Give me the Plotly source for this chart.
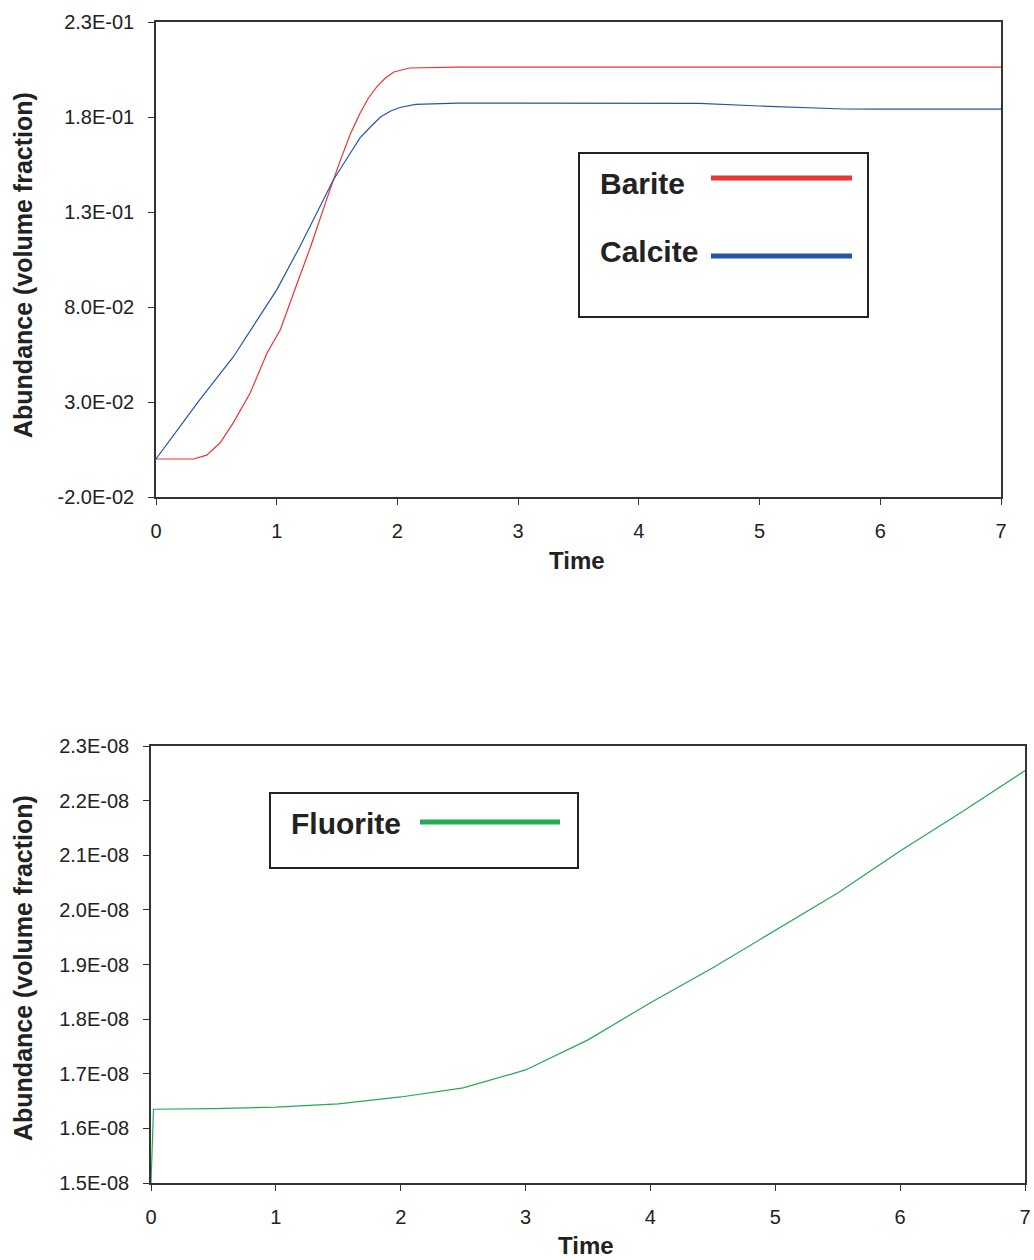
import plotly.graph_objects as go

# ---- data: upper panel (barite / calcite volume fraction vs time) ----
barite_t = [0.0, 0.15, 0.31, 0.42, 0.53, 0.64, 0.78, 0.92, 1.03, 1.14, 1.28, 1.41,
            1.52, 1.61, 1.69, 1.76, 1.83, 1.9, 1.97, 2.1, 2.5, 3.0, 4.0, 5.0, 6.0, 7.0]
barite_v = [0.0, 0.0, 0.0, 0.002, 0.0084, 0.019, 0.0347, 0.0558, 0.068, 0.0874, 0.1116, 0.136,
            0.156, 0.171, 0.182, 0.19, 0.196, 0.2005, 0.2037, 0.2058, 0.2062, 0.2062, 0.2062,
            0.2062, 0.2062, 0.2062]

calcite_t = [0.0, 0.36, 0.64, 1.0, 1.19, 1.47, 1.6, 1.69, 1.78, 1.86, 1.94, 2.02, 2.15, 2.5,
             3.0, 4.0, 4.5, 5.0, 5.7, 6.0, 7.0]
calcite_v = [0.0, 0.031, 0.0537, 0.089, 0.1116, 0.147, 0.16, 0.169, 0.175, 0.18, 0.183, 0.185,
             0.1866, 0.1873, 0.1873, 0.1873, 0.1872, 0.1858, 0.1842, 0.1841, 0.1841]

# ---- data: lower panel (fluorite volume fraction vs time) ----
fluorite_t = [0.0, 0.02, 0.5, 1.0, 1.5, 2.0, 2.5, 3.0, 3.5, 4.0, 4.5, 5.0, 5.5, 6.0, 6.5, 7.0]
fluorite_v = [1.5e-8, 1.635e-8, 1.636e-8, 1.639e-8, 1.645e-8, 1.6575e-8, 1.674e-8, 1.707e-8,
              1.762e-8, 1.83e-8, 1.894e-8, 1.963e-8, 2.031e-8, 2.108e-8, 2.18e-8, 2.255e-8]

time_ticks = [0, 1, 2, 3, 4, 5, 6, 7]
top_yticks = [-0.02, 0.03, 0.08, 0.13, 0.18, 0.23]
top_ylabels = ["-2.0E-02", "3.0E-02", "8.0E-02", "1.3E-01", "1.8E-01", "2.3E-01"]
bot_yticks = [1.5e-8, 1.6e-8, 1.7e-8, 1.8e-8, 1.9e-8, 2.0e-8, 2.1e-8, 2.2e-8, 2.3e-8]
bot_ylabels = ["1.5E-08", "1.6E-08", "1.7E-08", "1.8E-08", "1.9E-08",
               "2.0E-08", "2.1E-08", "2.2E-08", "2.3E-08"]

RED = "#ee3333"
BLUE = "#2255aa"
GREEN = "#22aa55"
FONT = "Liberation Sans, Arial, sans-serif"
W, H = 1034, 1260

fig = go.Figure()
fig.add_trace(go.Scatter(x=barite_t, y=barite_v, mode="lines", name="Barite",
                         line=dict(color=RED, width=1.2), xaxis="x", yaxis="y"))
fig.add_trace(go.Scatter(x=calcite_t, y=calcite_v, mode="lines", name="Calcite",
                         line=dict(color=BLUE, width=1.2), xaxis="x", yaxis="y"))
fig.add_trace(go.Scatter(x=fluorite_t, y=fluorite_v, mode="lines", name="Fluorite",
                         line=dict(color=GREEN, width=1.2), xaxis="x2", yaxis="y2"))

axis_common = dict(showline=True, linecolor="#333333", linewidth=1.5, mirror=True,
                   ticks="outside", ticklen=6, tickcolor="#333333", showgrid=False,
                   zeroline=False, automargin=False,
                   tickfont=dict(family=FONT, size=20, color="#222222"))
xaxis_extra = dict(ticklabelstandoff=9)
yaxis_extra = dict(ticklabelstandoff=10)


def px_x(p):
    return p / W


def px_y(p):
    return 1 - p / H


fig.update_layout(
    width=W, height=H, margin=dict(l=0, r=0, t=0, b=0, autoexpand=False),
    paper_bgcolor="white", plot_bgcolor="white", showlegend=False,
    xaxis=dict(domain=[px_x(156), px_x(1001)], range=[0, 7], tickvals=time_ticks,
               anchor="y", **axis_common, **xaxis_extra),
    yaxis=dict(domain=[px_y(497), px_y(22)], range=[-0.02, 0.23], tickvals=top_yticks,
               ticktext=top_ylabels, anchor="x", **axis_common, **yaxis_extra),
    xaxis2=dict(domain=[px_x(151), px_x(1025)], range=[0, 7], tickvals=time_ticks,
                anchor="y2", **axis_common, **xaxis_extra),
    yaxis2=dict(domain=[px_y(1183), px_y(746)], range=[1.5e-8, 2.3e-8], tickvals=bot_yticks,
                ticktext=bot_ylabels, anchor="x2", **axis_common, **yaxis_extra),
)

title_font = dict(family=FONT, size=24, color="#222222", weight="bold")
ytitle_font = dict(family=FONT, size=25, color="#222222", weight="bold")
legend_font = dict(family=FONT, size=30, color="#222222", weight="bold")


def label(text, x, y, font, xanchor="center", angle=0):
    return dict(text=text, x=px_x(x), y=px_y(y), xref="paper", yref="paper",
                xanchor=xanchor, yanchor="middle", showarrow=False,
                textangle=angle, font=font)


annotations = [
    label("Time", 577, 560, title_font),
    label("Time", 586, 1245, title_font),
    label("Abundance (volume fraction)", 23, 265, ytitle_font, angle=-90),
    label("Abundance (volume fraction)", 23, 968, ytitle_font, angle=-90),
    # legend labels
    label("Barite", 598, 183, legend_font, xanchor="left"),
    label("Calcite", 598, 252, legend_font, xanchor="left"),
    label("Fluorite", 289, 823, legend_font, xanchor="left"),
]

shapes = [
    # legend frames
    dict(type="rect", xref="paper", yref="paper", x0=px_x(579), x1=px_x(868),
         y0=px_y(317), y1=px_y(153), line=dict(color="#222222", width=2), fillcolor="white"),
    dict(type="rect", xref="paper", yref="paper", x0=px_x(270), x1=px_x(578),
         y0=px_y(868), y1=px_y(793), line=dict(color="#222222", width=2), fillcolor="white"),
    # legend line samples
    dict(type="line", xref="paper", yref="paper", x0=px_x(711), x1=px_x(852),
         y0=px_y(178), y1=px_y(178), line=dict(color=RED, width=5)),
    dict(type="line", xref="paper", yref="paper", x0=px_x(711), x1=px_x(852),
         y0=px_y(256), y1=px_y(256), line=dict(color=BLUE, width=5)),
    dict(type="line", xref="paper", yref="paper", x0=px_x(420), x1=px_x(560),
         y0=px_y(822), y1=px_y(822), line=dict(color=GREEN, width=5)),
]

fig.update_layout(annotations=annotations, shapes=shapes)
fig.write_html("out.html")
